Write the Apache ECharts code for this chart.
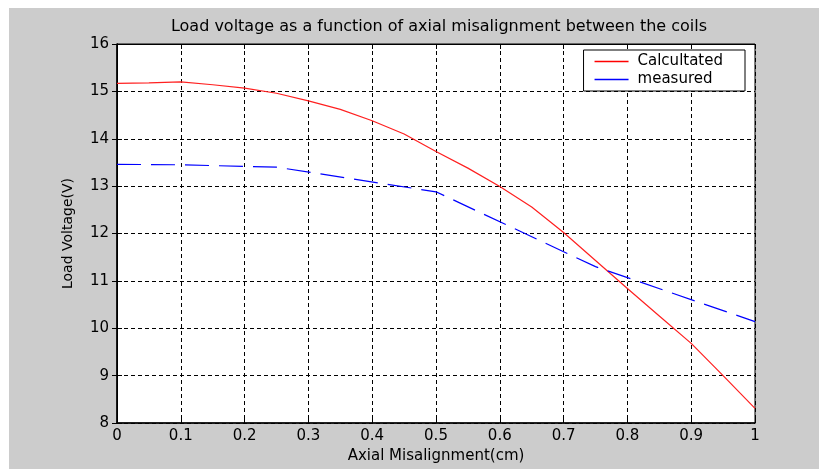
<!DOCTYPE html>
<html>
<head>
<meta charset="utf-8">
<script src="https://cdn.jsdelivr.net/npm/echarts@6/dist/echarts.min.js"></script>
<style>
  html, body { margin: 0; padding: 0; background: #fff; }
  #chart { width: 819px; height: 469px; }
</style>
</head>
<body>
<div id="chart"></div>
<script>
// axial misalignment (cm)
var calcX = [0, 0.05, 0.1, 0.15, 0.2, 0.25, 0.3, 0.35, 0.4, 0.45, 0.5, 0.55, 0.6, 0.65, 0.7, 0.75, 0.8, 0.85, 0.9, 0.95, 1];
var calcV = [15.17, 15.18, 15.2, 15.14, 15.07, 14.96, 14.8, 14.62, 14.38, 14.1, 13.73, 13.38, 12.99, 12.56, 12.02, 11.43, 10.84, 10.26, 9.68, 9.0, 8.31];
var measX = [0, 0.1, 0.25, 0.5, 0.75, 1];
var measV = [13.46, 13.45, 13.4, 12.88, 11.3, 10.14];
var xTicks = [0, 0.1, 0.2, 0.3, 0.4, 0.5, 0.6, 0.7, 0.8, 0.9, 1];
var yTicks = [8, 9, 10, 11, 12, 13, 14, 15, 16];

var font = 'DejaVu Sans, sans-serif';

function pairs(xs, ys) {
    return xs.map(function (x, i) { return [x, ys[i]]; });
}

var chart = echarts.init(document.getElementById('chart'));

var gridDash = { color: '#000', width: 1, type: [4, 3] };

var option = {
    animation: false,
    graphic: [{
        type: 'rect',
        left: 9, top: 8,
        shape: { width: 810, height: 461 },
        style: { fill: '#cccccc' },
        z: -10
    }],
    title: {
        text: 'Load voltage as a function of axial misalignment between the coils',
        left: 434, top: 14, textAlign: 'center',
        textStyle: { fontFamily: font, fontSize: 16, fontWeight: 'normal', color: '#000' }
    },
    grid: { left: 117, top: 44, right: 64, bottom: 46, show: true, backgroundColor: '#fff', borderColor: '#000', borderWidth: 1 },
    legend: {
        right: 74, top: 50,
        orient: 'vertical',
        backgroundColor: '#fff',
        borderColor: '#000', borderWidth: 1,
        padding: [4, 22, 4, 11],
        itemGap: 3,
        itemWidth: 34, itemHeight: 1.5,
        icon: 'rect',
        textStyle: { fontFamily: font, fontSize: 15, color: '#000', padding: [0, 0, 0, 4] },
        data: ['Calcultated', 'measured']
    },
    xAxis: [{
        type: 'value', min: 0, max: 1, interval: 0.1,
        name: 'Axial Misalignment(cm)', nameLocation: 'middle', nameGap: 23,
        nameTextStyle: { fontFamily: font, fontSize: 15, color: '#000' },
        axisLine: { lineStyle: { color: '#000', width: 1.5 } },
        axisTick: { inside: true, length: 5, lineStyle: { color: '#000' } },
        axisLabel: { fontFamily: font, fontSize: 15, color: '#000', margin: 6,
            formatter: function (v) { var r = Math.round(v * 10) / 10; return xTicks.indexOf(r) >= 0 ? String(r) : ''; } },
        splitLine: { show: true, lineStyle: gridDash }
    }, {
        type: 'value', min: 0, max: 1, interval: 0.1, position: 'top',
        axisLine: { lineStyle: { color: '#000' } },
        axisTick: { inside: true, length: 5, lineStyle: { color: '#000' } },
        axisLabel: { show: false }, splitLine: { show: false }
    }],
    yAxis: [{
        type: 'value', min: 8, max: 16, interval: 1,
        name: 'Load Voltage(V)', nameLocation: 'middle', nameGap: 42,
        nameTextStyle: { fontFamily: font, fontSize: 14, color: '#000' },
        axisLine: { show: true, lineStyle: { color: '#000', width: 1.5 } },
        axisTick: { show: true, inside: true, length: 5, lineStyle: { color: '#000' } },
        axisLabel: { fontFamily: font, fontSize: 15, color: '#000', margin: 8 },
        splitLine: { show: true, lineStyle: gridDash }
    }, {
        type: 'value', min: 8, max: 16, interval: 1, position: 'right',
        axisLine: { show: true, lineStyle: { color: '#000' } },
        axisTick: { show: true, inside: true, length: 5, lineStyle: { color: '#000' } },
        axisLabel: { show: false }, splitLine: { show: false }
    }],
    series: [{
        name: 'Calcultated',
        type: 'line',
        data: pairs(calcX, calcV),
        showSymbol: false,
        color: '#ff0000',
        lineStyle: { color: '#ff2020', width: 1.2 }
    }, {
        name: 'measured',
        type: 'line',
        data: pairs(measX, measV),
        showSymbol: false,
        color: '#0000ff',
        lineStyle: { color: '#0000ff', width: 1.2, type: [24, 10] }
    }]
};

chart.setOption(option);
</script>
</body>
</html>
